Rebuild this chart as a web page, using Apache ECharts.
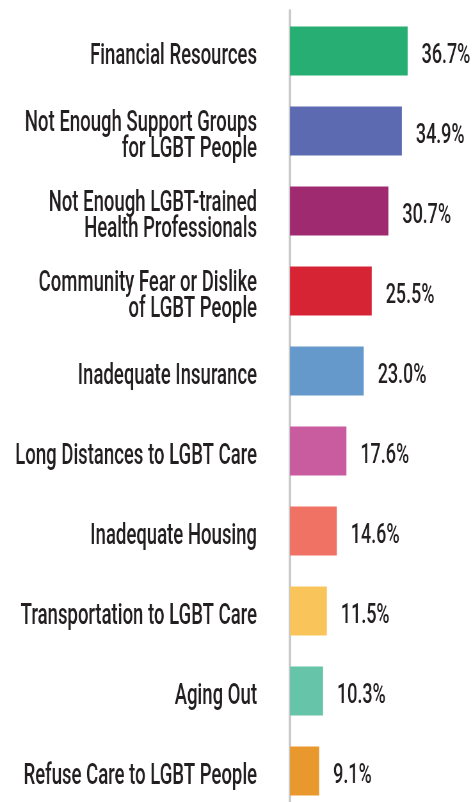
<!DOCTYPE html>
<html>
<head>
<meta charset="utf-8">
<script src="https://cdn.jsdelivr.net/npm/echarts@6/dist/echarts.min.js"></script>
<style>
  html, body { margin: 0; padding: 0; background: #fff; overflow: hidden; }
  #chart { height: 802px; transform-origin: 0 0; }
</style>
</head>
<body>
<div id="chart"></div>
<script>
// barriers to care, share of respondents (%)
const categories = [
  'Financial Resources',
  'Not Enough Support Groups\nfor LGBT People',
  'Not Enough LGBT-trained\nHealth Professionals',
  'Community Fear or Dislike\nof LGBT People',
  'Inadequate Insurance',
  'Long Distances to LGBT Care',
  'Inadequate Housing',
  'Transportation to LGBT Care',
  'Aging Out',
  'Refuse Care to LGBT People'
];
const values = [36.7, 34.9, 30.7, 25.5, 23.0, 17.6, 14.6, 11.5, 10.3, 9.1];
const barColors = [
  '#27ae72', '#5c6bb1', '#a02a70', '#d62435', '#6699cb',
  '#c95c9f', '#ef7264', '#f9c55b', '#66c4a8', '#e9982e'
];

// the original uses a condensed face; squash a regular one horizontally instead
const squeeze = 0.64;
const px = v => v / squeeze;

const font = 'Roboto, "Noto Sans", sans-serif';
const textColor = '#231f20';

const el = document.getElementById('chart');
el.style.width = px(474) + 'px';
el.style.transform = 'scaleX(' + squeeze + ')';

const chart = echarts.init(el, null, { renderer: 'canvas' });
chart.setOption({
  animation: false,
  grid: { left: px(290), right: px(24), top: 11, height: 800, outerBoundsMode: 'none', containLabel: false },
  xAxis: {
    type: 'value',
    min: 0,
    max: 50,
    show: false
  },
  yAxis: {
    type: 'category',
    data: categories,
    inverse: true,
    axisLine: { show: true, lineStyle: { color: '#c9c9cb', width: px(2.5) } },
    axisTick: { show: false },
    axisLabel: {
      margin: px(33),
      color: textColor,
      fontFamily: font,
      fontWeight: 500,
      fontSize: 29,
      lineHeight: 26,
      padding: [12, 0, 0, 0],
      rich: { t: {} }
    }
  },
  series: [{
    type: 'bar',
    barWidth: 49,
    data: values.map((v, i) => ({ value: v, itemStyle: { color: barColors[i] } })),
    label: {
      show: true,
      position: 'right',
      distance: px(14),
      color: textColor,
      fontFamily: font,
      fontWeight: 500,
      fontSize: 28,
      padding: [10, 0, 0, 0],
      rich: { t: {} },
      formatter: p => p.value.toFixed(1) + '%'
    }
  }]
});
</script>
</body>
</html>
